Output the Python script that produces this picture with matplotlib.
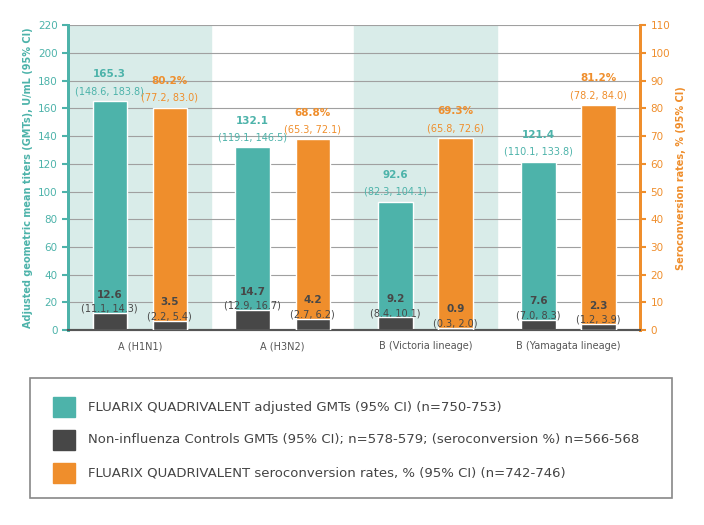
import matplotlib.pyplot as plt
from matplotlib.patches import Rectangle

groups = ["A (H1N1)", "A (H3N2)", "B (Victoria lineage)", "B (Yamagata lineage)"]
gmt = [165.3, 132.1, 92.6, 121.4]
gmt_ci = ["(148.6, 183.8)", "(119.1, 146.5)", "(82.3, 104.1)", "(110.1, 133.8)"]
ctrl_gmt = [12.6, 14.7, 9.2, 7.6]
ctrl_gmt_ci = ["(11.1, 14.3)", "(12.9, 16.7)", "(8.4, 10.1)", "(7.0, 8.3)"]
sero = [80.2, 68.8, 69.3, 81.2]
sero_ci = ["(77.2, 83.0)", "(65.3, 72.1)", "(65.8, 72.6)", "(78.2, 84.0)"]
ctrl_sero = [3.5, 4.2, 0.9, 2.3]
ctrl_sero_ci = ["(2.2, 5.4)", "(2.7, 6.2)", "(0.3, 2.0)", "(1.2, 3.9)"]

TEAL = "#4db3aa"; ORANGE = "#ef8e2c"; DARK = "#474747"; GRID = "#a0a0a0"

fig = plt.figure(figsize=(7.04, 5.25), dpi=100)
ax = fig.add_axes([0.097, 0.371, 0.812, 0.581])
ax2 = ax.twinx()
ax.set_xlim(-0.5, 3.5); ax.set_ylim(0, 220); ax2.set_ylim(0, 110)
for i in (0, 2):
    ax.axvspan(i - 0.5, i + 0.5, color="#d9ece9", zorder=0)
ax.set_yticks(range(0, 221, 20))
ax2.set_yticks(range(0, 111, 10))
ax.grid(axis="y", color=GRID, lw=0.8, zorder=1)
ax.set_axisbelow(True)
off, w = 0.21, 0.24
x = range(len(groups))
for i in x:
    ax.bar(i - off, gmt[i], w, color=TEAL, edgecolor="white", lw=1, zorder=3)
    ax.bar(i - off, ctrl_gmt[i], w, color=DARK, edgecolor="white", lw=1, zorder=4)
    ax2.bar(i + off, sero[i], w, color=ORANGE, edgecolor="white", lw=1, zorder=3)
    ax2.bar(i + off, ctrl_sero[i], w, color=DARK, edgecolor="white", lw=1, zorder=4)
    ax.text(i - off, gmt[i] + 17, f"{gmt[i]:.1f}", ha="center", color=TEAL, fontsize=7.5, fontweight="bold")
    ax.text(i - off, gmt[i] + 5, gmt_ci[i], ha="center", color=TEAL, fontsize=7)
    ax.text(i - off, ctrl_gmt[i] + 11, f"{ctrl_gmt[i]:.1f}", ha="center", color=DARK, fontsize=7.5, fontweight="bold")
    ax.text(i - off, ctrl_gmt[i] + 1, ctrl_gmt_ci[i], ha="center", color=DARK, fontsize=7)
    ax2.text(i + off, sero[i] + 8.5, f"{sero[i]:.1f}%", ha="center", color=ORANGE, fontsize=7.5, fontweight="bold")
    ax2.text(i + off, sero[i] + 2.5, sero_ci[i], ha="center", color=ORANGE, fontsize=7)
    ax2.text(i + off, ctrl_sero[i] + 5.5, f"{ctrl_sero[i]:.1f}", ha="center", color=DARK, fontsize=7.5, fontweight="bold")
    ax2.text(i + off, ctrl_sero[i] + 0.5, ctrl_sero_ci[i], ha="center", color=DARK, fontsize=7)
ax.set_xticks(list(x)); ax.set_xticklabels(groups, fontsize=7, color="#555555")
ax.tick_params(axis="x", length=0, pad=8)
ax.tick_params(axis="y", colors=TEAL, labelsize=7.5, length=4, width=1.5, labelcolor=TEAL)
ax2.tick_params(axis="y", colors=ORANGE, labelsize=7.5, length=4, width=1.5, labelcolor=ORANGE)
for a in (ax, ax2):
    a.spines["top"].set_visible(False)
    a.spines["left"].set_color(TEAL); a.spines["left"].set_linewidth(2)
    a.spines["right"].set_color(ORANGE); a.spines["right"].set_linewidth(2)
    a.spines["bottom"].set_color("#555555"); a.spines["bottom"].set_linewidth(1.5)
ax.set_ylabel("Adjusted geometric mean titers (GMTs), U/mL (95% CI)", color=TEAL, fontsize=7, fontweight="bold")
ax2.set_ylabel("Seroconversion rates, % (95% CI)", color=ORANGE, fontsize=7, fontweight="bold")

# legend box
fig.patches.append(Rectangle((30/704, 1-498/525), 642/704, 120/525, transform=fig.transFigure,
                             fill=False, edgecolor="#888888", lw=1.2))
items = [(TEAL, "FLUARIX QUADRIVALENT adjusted GMTs (95% CI) (n=750-753)"),
         (DARK, "Non-influenza Controls GMTs (95% CI); n=578-579; (seroconversion %) n=566-568"),
         (ORANGE, "FLUARIX QUADRIVALENT seroconversion rates, % (95% CI) (n=742-746)")]
for k, (c, t) in enumerate(items):
    yc = 407 + k * 33
    fig.patches.append(Rectangle((53/704, 1-(yc+10)/525), 22/704, 20/525, transform=fig.transFigure, color=c))
    fig.text(88/704, 1-yc/525, t, va="center", fontsize=9.5, color="#444444")
fig.savefig("out.png", dpi=100)
